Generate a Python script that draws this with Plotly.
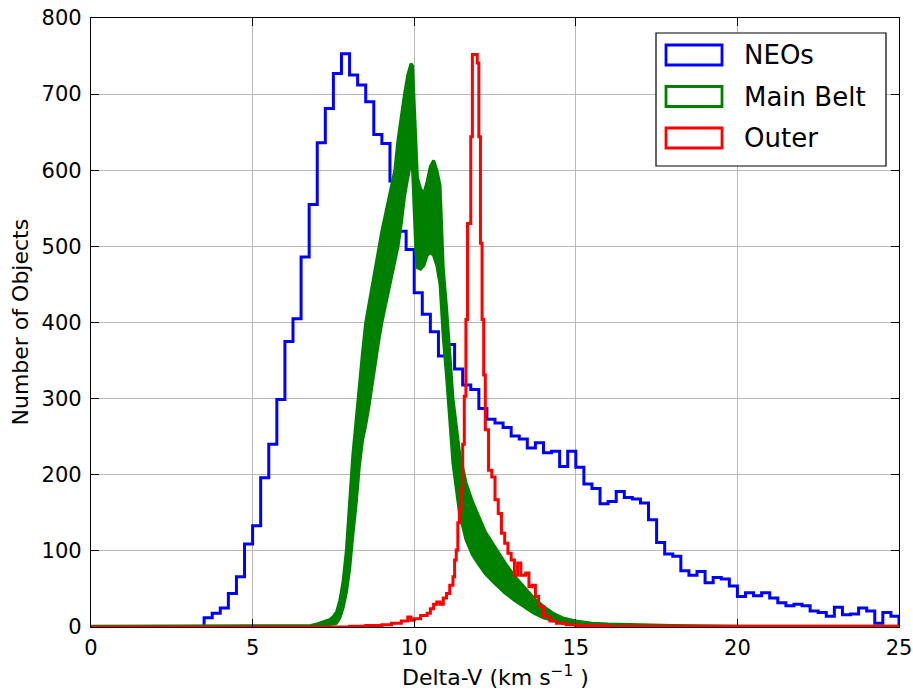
import numpy as np
import plotly.graph_objects as go

# ---------------- data ----------------
# NEOs: step histogram, bin width 0.25 starting at 3.5
neo_bin_start = 3.5
neo_bin_width = 0.25
neo_counts = [12, 18, 25, 44, 66, 109, 133, 196, 240, 299, 375, 405, 486, 555, 636, 681,
              727, 753, 725, 712, 690, 647, 635, 586, 520, 496, 439, 411, 388, 356, 371, 339,
              318, 312, 287, 273, 268, 262, 251, 247, 235, 242, 229, 231, 211, 231, 210, 188,
              182, 162, 165, 178, 170, 168, 163, 141, 111, 96, 93, 74, 68, 73, 58, 65,
              63, 54, 40, 45, 41, 45, 38, 32, 28, 30, 28, 21, 19, 14, 26, 16,
              17, 25, 21, 5, 19, 14]

# Main Belt: very finely binned, noisy histogram -> read as lower / upper envelope
mb_x = [0.0, 6.8, 7.0, 7.2, 7.4, 7.5, 7.6, 7.7, 7.8, 7.9, 8.0, 8.05, 8.1, 8.2, 8.3, 8.4,
        8.5, 8.6, 8.7, 8.8, 8.9, 9.0, 9.2, 9.4, 9.5, 9.6, 9.7, 9.8, 9.9, 9.95, 10.0,
        10.05, 10.1, 10.2, 10.3, 10.4, 10.5, 10.6, 10.7, 10.8, 10.9, 11.0, 11.2, 11.4,
        11.6, 11.8, 12.0, 12.2, 12.5, 12.8, 13.1, 13.4, 13.7, 14.0, 14.3, 14.6, 15.0,
        15.5, 16.0, 17.0, 18.0, 20.0, 25.0]
mb_lower = [0, 0, 1, 2, 3, 4, 5, 12, 25, 45, 75, 100, 120, 160, 210, 245,
            265, 290, 320, 350, 375, 400, 440, 480, 500, 530, 565, 590, 610, 600, 540,
            495, 472, 470, 475, 488, 492, 488, 475, 450, 380, 330, 215, 150,
            115, 95, 82, 70, 57, 45, 35, 26, 18, 12, 8, 5, 3,
            1, 0, 0, 0, 0, 0]
mb_upper = [1, 2, 4, 7, 10, 14, 20, 35, 60, 100, 165, 200, 225, 270, 320, 360,
            400, 425, 450, 475, 500, 520, 560, 600, 640, 672, 700, 725, 740, 737, 680,
            640, 590, 575, 570, 585, 605, 613, 600, 580, 470, 420, 300, 230,
            190, 165, 145, 125, 105, 85, 67, 52, 38, 27, 18, 12, 8,
            5, 4, 3, 2, 1, 1]

# Outer: step histogram with variable bin edges (left edges) and counts
outer_edges = [0.0, 8.0, 8.5, 9.0, 9.3, 9.6, 9.8, 9.9, 10.0, 10.2, 10.4, 10.5, 10.6, 10.7,
               10.8, 10.9, 11.0, 11.1, 11.2, 11.25, 11.3, 11.35, 11.4, 11.45, 11.5, 11.55,
               11.6, 11.65, 11.75, 11.8, 11.95, 12.0, 12.05, 12.1, 12.15, 12.2, 12.3, 12.4,
               12.5, 12.6, 12.7, 12.8, 12.9, 13.0, 13.1, 13.2, 13.3, 13.45, 13.55, 13.65,
               13.75, 13.85, 14.0, 14.2, 14.4, 14.7, 15.0, 16.0]
outer_counts = [0, 1, 2, 3, 5, 8, 13, 9, 11, 15, 18, 24, 30, 33,
                30, 38, 44, 55, 66, 88, 101, 137, 154, 180, 240, 303,
                404, 530, 644, 752, 741, 644, 504, 404, 331, 259, 206, 197,
                167, 149, 123, 110, 97, 88, 68, 84, 68, 71, 53, 55,
                40, 27, 14, 8, 5, 3, 2, 1]
outer_end = 25.0

x_ticks = [0, 5, 10, 15, 20, 25]
y_ticks = [0, 100, 200, 300, 400, 500, 600, 700, 800]
legend_labels = ["NEOs", "Main Belt", "Outer"]
colors = ["#0000ff", "#008000", "#ff0000"]


def step_xy(edges, counts):
    xs = [edges[0]] + list(edges)
    ys = [0] + list(counts) + [0]
    return xs, ys


neo_edges = list(neo_bin_start + neo_bin_width * np.arange(len(neo_counts) + 1))
nx, ny = step_xy(neo_edges, neo_counts)
ox, oy = step_xy(outer_edges + [outer_end], outer_counts)

fig = go.Figure()
LW = 3
fig.add_trace(go.Scatter(x=nx, y=ny, mode="lines", line=dict(color=colors[0], width=LW, shape="hv"),
                         name=legend_labels[0], showlegend=False))
fig.add_trace(go.Scatter(x=mb_x, y=mb_lower, mode="lines", line=dict(color=colors[1], width=LW),
                         showlegend=False, hoverinfo="skip"))
fig.add_trace(go.Scatter(x=mb_x, y=mb_upper, mode="lines", line=dict(color=colors[1], width=LW),
                         fill="tonexty", fillcolor=colors[1], name=legend_labels[1], showlegend=False))
fig.add_trace(go.Scatter(x=ox, y=oy, mode="lines", line=dict(color=colors[2], width=LW, shape="hv"),
                         name=legend_labels[2], showlegend=False))

L, R, T, B = 91, 14, 18, 65
W, H = 913, 692
pw, ph = W - L - R, H - T - B


def px(xp):
    return (xp - L) / pw


def py(yp):
    return (H - B - yp) / ph


font = "DejaVu Sans"
shapes = []
annotations = []
# legend box
shapes.append(dict(type="rect", xref="paper", yref="paper", x0=px(656), x1=px(886), y0=py(166), y1=py(33),
                   line=dict(color="black", width=1.2), fillcolor="white", layer="above"))
rows = [55, 96.5, 138]
for lab, col, yc in zip(legend_labels, colors, rows):
    shapes.append(dict(type="rect", xref="paper", yref="paper", x0=px(666), x1=px(722),
                       y0=py(yc + 10), y1=py(yc - 10), line=dict(color=col, width=2.8),
                       fillcolor="rgba(0,0,0,0)", layer="above"))
    annotations.append(dict(text=lab, xref="paper", yref="paper", x=px(742), y=py(yc), xanchor="left",
                            yanchor="middle", showarrow=False, font=dict(family=font, size=26, color="black")))

annotations.append(dict(text="Delta-V (km s<sup>\u22121</sup> )", xref="paper", yref="paper", x=0.5, y=py(676),
                        xanchor="center", yanchor="middle", showarrow=False,
                        font=dict(family=font, size=22, color="black")))
annotations.append(dict(text="Number of Objects", xref="paper", yref="paper", x=px(20), y=0.5, textangle=-90,
                        xanchor="center", yanchor="middle", showarrow=False,
                        font=dict(family=font, size=22, color="black")))

axis_common = dict(showline=True, linecolor="black", linewidth=1.2, mirror="ticks", ticks="inside",
                   ticklen=8, tickcolor="black", tickwidth=1, showgrid=True, gridcolor="#b8b8b8",
                   gridwidth=1, zeroline=False, tickfont=dict(family=font, size=21, color="black"))

fig.update_layout(
    width=W, height=H, margin=dict(l=L, r=R, t=T, b=B, autoexpand=False),
    plot_bgcolor="white", paper_bgcolor="white",
    xaxis=dict(range=[0, 25], tickvals=x_ticks, ticktext=[str(v) for v in x_ticks],
               ticklabelstandoff=2, **axis_common),
    yaxis=dict(range=[0, 800], tickvals=y_ticks, ticktext=[str(v) for v in y_ticks],
               ticklabelstandoff=4, **axis_common),
    shapes=shapes, annotations=annotations, showlegend=False,
)

fig.write_html("out.html")
